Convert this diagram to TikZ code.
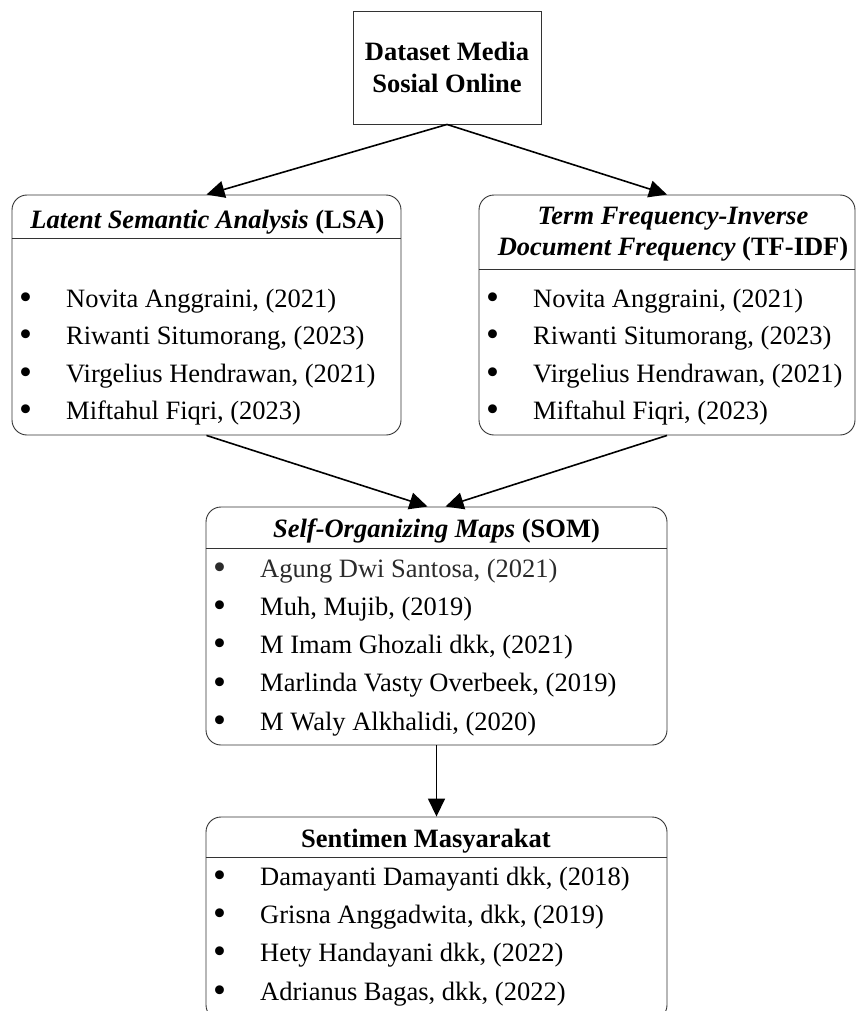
\documentclass[tikz,border=0pt]{standalone}
\usepackage{fontspec}
\setmainfont{Liberation Serif}
\usetikzlibrary{arrows.meta}
\definecolor{rim}{gray}{0.2}
\definecolor{faded}{gray}{0.17}
\tikzset{
  card/.style={draw=rim, line width=0.9pt, rounded corners=15pt, inner sep=0pt},
  plainbox/.style={draw=rim, line width=0.9pt, align=center, inner sep=0pt,
    font=\fontsize{26.5}{32}\selectfont\bfseries},
  head/.style={anchor=base, inner sep=0pt, align=center},
  item/.style={anchor=base west, inner sep=0pt,
    execute at begin node={\makebox[45.5pt][l]{\hspace{-1.5pt}\raisebox{-2.3pt}{\fontsize{37}{37}\selectfont\textbullet}}}},
  rule/.style={draw=rim, line width=0.9pt},
  flow/.style={line width=1.6pt, -{Triangle[length=18pt,width=17pt]}},
}

\begin{document}
\begin{tikzpicture}[x=1pt, y=-1pt, font=\fontsize{26.5}{31}\selectfont]
	\useasboundingbox (0,0) rectangle (856,1011);
	%
	\node[plainbox, minimum width=188pt, minimum height=113pt] (data) at (447,67.5) {Dataset Media\\Sosial Online};
	\node[card, minimum width=389pt, minimum height=240pt] (lsa) at (206.5,315) {};
	\node[card, minimum width=376pt, minimum height=240pt] (tfidf) at (667,315) {};
	\node[card, minimum width=461pt, minimum height=238pt] (som) at (436.5,626) {};
	\node[card, minimum width=461pt, minimum height=203pt] (sentimen) at (436.5,918.5) {};
	%
	\draw[rule] ([yshift=-44pt]lsa.north west) -- ([yshift=-44pt]lsa.north east);
	\draw[rule] ([yshift=-75pt]tfidf.north west) -- ([yshift=-75pt]tfidf.north east);
	\draw[rule] ([yshift=-42pt]som.north west) -- ([yshift=-42pt]som.north east);
	\draw[rule] ([yshift=-41pt]sentimen.north west) -- ([yshift=-41pt]sentimen.north east);
	%
	\node[head] (lsahead) at (207.5,228) {\textbf{\textit{Latent Semantic Analysis}} \textbf{(LSA)}};
	\node[head, anchor=center] (tfidfhead) at (673,234.3) {\textbf{\textit{Term Frequency-Inverse}}\\\textbf{\textit{Document Frequency}} \textbf{(TF-IDF)}};
	\node[head] (somhead) at (436.5,537) {\textbf{\textit{Self-Organizing Maps}} \textbf{(SOM)}};
	\node[head] (sentimenhead) at (426,847) {\textbf{Sentimen Masyarakat}};
	%
	\node[item] (lsa1) at (20.5,307) {Novita Anggraini, (2021)};
	\node[item] (lsa2) at (20.5,344.5) {Riwanti Situmorang, (2023)};
	\node[item] (lsa3) at (20.5,382) {Virgelius Hendrawan, (2021)};
	\node[item] (lsa4) at (20.5,419.5) {Miftahul Fiqri, (2023)};
	%
	\node[item] (tfidf1) at (487.5,307) {Novita Anggraini, (2021)};
	\node[item] (tfidf2) at (487.5,344.5) {Riwanti Situmorang, (2023)};
	\node[item] (tfidf3) at (487.5,382) {Virgelius Hendrawan, (2021)};
	\node[item] (tfidf4) at (487.5,419.5) {Miftahul Fiqri, (2023)};
	%
	\node[item, text=faded] (som1) at (214.5,577) {Agung Dwi Santosa, (2021)};
	\node[item] (som2) at (214.5,615.25) {Muh, Mujib, (2019)};
	\node[item] (som3) at (214.5,653.5) {M Imam Ghozali dkk, (2021)};
	\node[item] (som4) at (214.5,691.75) {Marlinda Vasty Overbeek, (2019)};
	\node[item] (som5) at (214.5,730) {M Waly Alkhalidi, (2020)};
	%
	\node[item] (sentimen1) at (214.5,885) {Damayanti Damayanti dkk, (2018)};
	\node[item] (sentimen2) at (214.5,923.3) {Grisna Anggadwita, dkk, (2019)};
	\node[item] (sentimen3) at (214.5,961.6) {Hety Handayani dkk, (2022)};
	\node[item] (sentimen4) at (214.5,1000) {Adrianus Bagas, dkk, (2022)};
	%
	\draw[flow] (data.south) -- (lsa.north);
	\draw[flow] (data.south) -- (tfidf.north);
	\draw[flow] (lsa.south) -- ([xshift=-9pt]som.north);
	\draw[flow] (tfidf.south) -- ([xshift=9pt]som.north);
	\draw[flow] (som.south) -- (sentimen.north);
\end{tikzpicture}
\end{document}
